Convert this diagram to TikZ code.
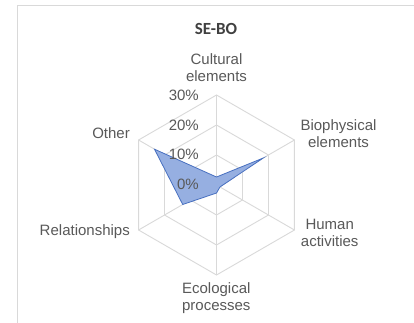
\documentclass[tikz,border=0pt]{standalone}
\usepackage{fontspec}
\setmainfont{Liberation Sans}
\newfontfamily\titlefont{Carlito}
\usetikzlibrary{calc}
\definecolor{serfill}{RGB}{150,175,225}
\definecolor{seredge}{RGB}{72,112,192}
\definecolor{txtgray}{RGB}{89,89,89}
\definecolor{titlegray}{RGB}{64,64,64}
\begin{document}
\begin{tikzpicture}[x=1pt,y=1pt,
  grid/.style={draw=black!15, line width=0.9pt},
  lbl/.style={text=txtgray, font=\fontsize{15}{17}\selectfont, inner sep=0pt, align=center},
  pct/.style={text=txtgray, font=\fontsize{15}{17}\selectfont, inner sep=0pt, anchor=east},
  series/.style={draw=seredge, fill=serfill, line width=0.8pt, line join=miter}
]
\useasboundingbox (0,0) rectangle (414,322);
\fill[white] (0,0) rectangle (414,322);
\draw[black!15, line width=1.5pt] (17.5,-5) |- (420,316.3);
\coordinate (c) at (216.5,137);
% grid hexagons
\foreach \r in {30,60,90}{
  \draw[grid] ($(c)+(90:\r)$) -- ($(c)+(30:\r)$) -- ($(c)+(-30:\r)$) -- ($(c)+(-90:\r)$) -- ($(c)+(-150:\r)$) -- ($(c)+(150:\r)$) -- cycle;
}
\foreach \a/\n in {90/a1,30/a2,-30/a3,-90/a4,-150/a5,150/a6}{
  \coordinate (\n) at ($(c)+(\a:90)$);
  \draw[grid] (c) -- (\n);
}
% data
\coordinate (d1) at ($(c)+(90:8)$);
\coordinate (d2) at ($(c)+(30:54)$);
\coordinate (d3) at ($(c)+(-30:4)$);
\coordinate (d4) at ($(c)+(-90:8)$);
\coordinate (d5) at ($(c)+(-150:39)$);
\coordinate (d6) at ($(c)+(150:71.6)$);
\filldraw[series] (d1) -- (d2) -- (d3) -- (d4) -- (d5) -- (d6) -- cycle;
% percent labels
\node[pct] (p0) at ($(c)+(-17.5,1)$) {0\%};
\node[pct] (p1) at ($(c)+(-17.5,30.5)$) {10\%};
\node[pct] (p2) at ($(c)+(-17.5,60)$) {20\%};
\node[pct] (p3) at ($(c)+(-17.5,89.5)$) {30\%};
% category labels
\node[lbl] (t1) at (216.5,254.5) {Cultural\\elements};
\node[lbl] (t2) at (338.5,188.5) {Biophysical\\elements};
\node[lbl] (t3) at (329.7,89.5) {Human\\activities};
\node[lbl] (t4) at (216.3,23.5) {Ecological\\processes};
\node[lbl, anchor=east] (t5) at (130,90) {Relationships};
\node[lbl, anchor=east] (t6) at (130,189) {Other};
% title
\node[inner sep=0pt, text=titlegray, font=\titlefont\bfseries\fontsize{17}{20}\selectfont] (title) at (216,293) {SE-BO};
\end{tikzpicture}
\end{document}
